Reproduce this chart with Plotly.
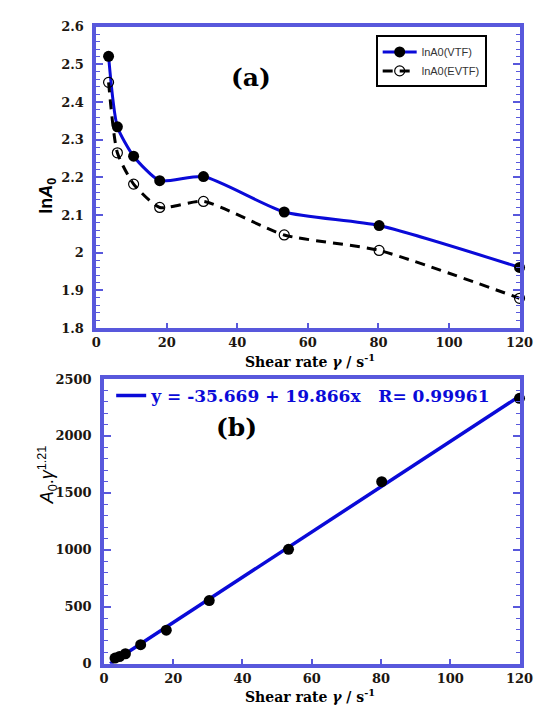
import plotly.graph_objects as go

# ---- data -------------------------------------------------------------
shear_a = [3.5, 6.0, 10.6, 18.0, 30.4, 53.3, 80.2, 120.0]
lnA0_vtf = [2.521, 2.334, 2.256, 2.191, 2.202, 2.108, 2.072, 1.961]
lnA0_evtf = [2.452, 2.265, 2.182, 2.120, 2.136, 2.047, 2.006, 1.879]

shear_b = [3.2, 4.5, 6.2, 10.6, 18.0, 30.4, 53.3, 80.2, 120.0]
A0_gamma = [50, 64, 88, 168, 295, 555, 1005, 1598, 2330]

fit_intercept = -35.669
fit_slope = 19.866
fit_r = 0.99961
fit_x = [1.8, 120.0]

# ---- styling ----------------------------------------------------------
W, H = 548, 708
FRAME = "#5858dc"
BLUE = "#0a0ad8"
LBL = "#1c1610"
SERIF = "DejaVu Serif"
SANS = "Liberation Sans"


def px_x(p):
    return p / W


def px_y(p):
    return 1 - p / H


fig = go.Figure()

fig.add_trace(go.Scatter(
    x=shear_a, y=lnA0_vtf, name="lnA0(VTF)", mode="lines+markers",
    line=dict(color=BLUE, width=3, shape="spline", smoothing=0.6),
    marker=dict(symbol="circle", size=11, color="black"),
    xaxis="x", yaxis="y", legend="legend", cliponaxis=False,
))
fig.add_trace(go.Scatter(
    x=shear_a, y=lnA0_evtf, name="lnA0(EVTF)", mode="lines+markers",
    line=dict(color="black", width=3, dash="10px,7px", shape="spline", smoothing=0.6),
    marker=dict(symbol="circle-open", size=10, color="black", line=dict(width=1.2)),
    xaxis="x", yaxis="y", legend="legend", cliponaxis=False,
))

fit_y = [fit_intercept + fit_slope * v for v in fit_x]
fig.add_trace(go.Scatter(
    x=fit_x, y=fit_y, mode="lines",
    name=f"y = {fit_intercept} + {fit_slope}x   R= {fit_r}",
    line=dict(color=BLUE, width=3.5),
    xaxis="x2", yaxis="y2", legend="legend2",
))
fig.add_trace(go.Scatter(
    x=shear_b, y=A0_gamma, mode="markers", showlegend=False,
    marker=dict(symbol="circle", size=11, color="black"),
    xaxis="x2", yaxis="y2", cliponaxis=False,
))

tickfont = dict(family=SERIF, size=13, color=LBL, weight="bold")


def xaxis(domain, anchor):
    return dict(
        domain=domain, anchor=anchor, range=[0, 120], dtick=20, tick0=0,
        showline=True, linecolor=FRAME, linewidth=3.5, mirror=True,
        ticks="inside", ticklen=5, tickwidth=1.5, tickcolor=FRAME,
        showgrid=False, zeroline=False, tickfont=tickfont,
        ticklabelstandoff=0,
    )


def yaxis(domain, anchor, rng, dtick, minor_dtick):
    return dict(
        domain=domain, anchor=anchor, range=rng, dtick=dtick, tick0=0,
        showline=True, linecolor=FRAME, linewidth=3.5, mirror="ticks",
        ticks="inside", ticklen=7, tickwidth=1.5, tickcolor=FRAME,
        minor=dict(dtick=minor_dtick, ticks="inside", ticklen=4,
                   tickwidth=1.2, tickcolor=FRAME, showgrid=False),
        showgrid=False, zeroline=False, tickfont=tickfont,
        ticklabelstandoff=6,
    )


fig.update_layout(
    width=W, height=H, margin=dict(l=0, r=0, t=0, b=0),
    paper_bgcolor="white", plot_bgcolor="white",
    xaxis=xaxis([px_x(94.5), px_x(533)], "y"),
    yaxis=yaxis([px_y(328), px_y(20)], "x", [1.8, 2.6], 0.1, 0.02),
    xaxis2=xaxis([px_x(102.5), px_x(533)], "y2"),
    yaxis2=yaxis([px_y(671), px_y(380)], "x2", [0, 2500], 500, 100),
    legend=dict(
        x=px_x(384), y=px_y(29), xanchor="left", yanchor="top",
        bordercolor="black", borderwidth=2, bgcolor="white",
        font=dict(family=SANS, size=11, color="#333"),
        itemwidth=34, tracegroupgap=0,
    ),
    legend2=dict(
        x=px_x(110), y=px_y(379), xanchor="left", yanchor="top",
        bgcolor="rgba(0,0,0,0)", borderwidth=0,
        font=dict(family=SERIF, size=17, color=BLUE, weight="bold"),
        itemwidth=30,
    ),
)

ann = []
# panel letters
ann.append(dict(text="(a)", x=px_x(255), y=px_y(55), xref="paper", yref="paper",
                showarrow=False, font=dict(family=SERIF, size=25, color="black", weight="bold")))
ann.append(dict(text="(b)", x=px_x(240), y=px_y(430), xref="paper", yref="paper",
                showarrow=False, font=dict(family=SERIF, size=25, color="black", weight="bold")))
# x-axis titles
xtitle = "Shear rate <i>γ</i> / s<sup>-1</sup>"
for yy in (362, 704):
    ann.append(dict(text=xtitle, x=px_x(316), y=px_y(yy), xref="paper", yref="paper",
                    showarrow=False, yanchor="middle",
                    font=dict(family=SERIF, size=14, color="black", weight="bold")))
# y-axis titles
ann.append(dict(text="ln<i>A</i><sub>0</sub>", x=px_x(30), y=px_y(172), xref="paper", yref="paper",
                showarrow=False, textangle=-90,
                font=dict(family=SANS, size=18, color="black", weight="bold")))
ann.append(dict(text="<i>A</i><sub>0</sub>.<i>γ</i><sup>1.21</sup>", x=px_x(29), y=px_y(510),
                xref="paper", yref="paper", showarrow=False, textangle=-90,
                font=dict(family=SANS, size=18, color="black")))
fig.update_layout(annotations=ann)

fig.write_html("out.html")
